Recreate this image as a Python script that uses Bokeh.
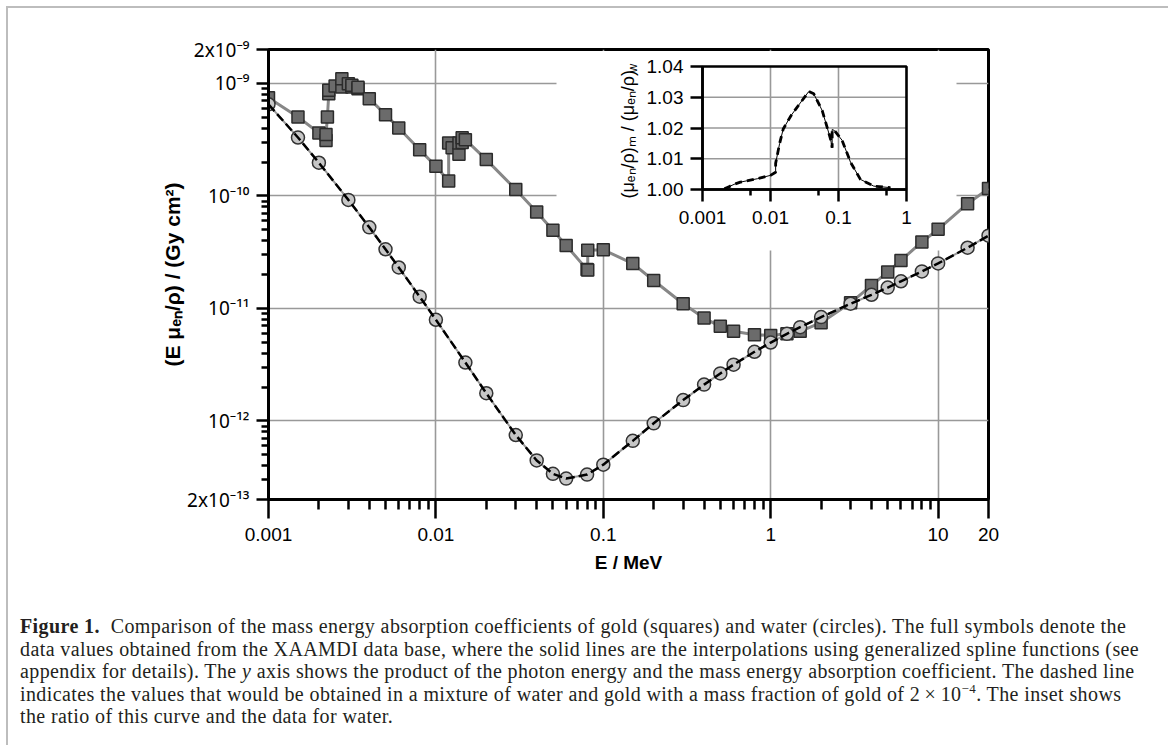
import math
from bokeh.plotting import figure
from bokeh.layouts import column
from bokeh.models import (Range1d, LogScale, LinearScale, LogAxis, LinearAxis, FixedTicker,
                          CustomJSTickFormatter, Label, Div)
from bokeh.embed import file_html
from bokeh.resources import INLINE

# ---------------- data ----------------
water_E = [0.001, 0.0015, 0.002, 0.003, 0.004, 0.005, 0.006, 0.008, 0.01, 0.015, 0.02,
           0.03, 0.04, 0.05, 0.06, 0.08, 0.1, 0.15, 0.2, 0.3, 0.4, 0.5, 0.6, 0.8, 1.0,
           1.25, 1.5, 2.0, 3.0, 4.0, 5.0, 6.0, 8.0, 10.0, 15.0, 20.0]
water_V = [6.51e-10, 3.30e-10, 1.97e-10, 9.21e-11, 5.25e-11, 3.35e-11, 2.31e-11, 1.27e-11,
           7.92e-12, 3.30e-12, 1.76e-12, 7.48e-13, 4.45e-13, 3.38e-13, 3.07e-13, 3.33e-13,
           4.08e-13, 6.64e-13, 9.51e-13, 1.53e-12, 2.10e-12, 2.64e-12, 3.16e-12, 4.11e-12,
           4.97e-12, 5.94e-12, 6.81e-12, 8.36e-12, 1.10e-11, 1.32e-11, 1.53e-11, 1.74e-11,
           2.13e-11, 2.51e-11, 3.46e-11, 4.43e-11]

gold_E = [0.001, 0.0015, 0.002, 0.002206, 0.002206, 0.002249, 0.002291, 0.002291, 0.0025,
          0.002743, 0.002743, 0.003, 0.003148, 0.003148, 0.003425, 0.003425, 0.004, 0.005,
          0.006, 0.008, 0.01, 0.011919, 0.011919, 0.0125, 0.013734, 0.013734, 0.014353,
          0.014353, 0.015, 0.02, 0.03, 0.04, 0.05, 0.06, 0.08, 0.080725, 0.080725, 0.1,
          0.15, 0.2, 0.3, 0.4, 0.5, 0.6, 0.8, 1.0, 1.25, 1.5, 2.0, 3.0, 4.0, 5.0, 6.0, 8.0,
          10.0, 15.0, 20.0]
gold_V = [7.46e-10, 5.02e-10, 3.63e-10, 3.11e-10, 3.52e-10, 5.02e-10, 8.10e-10, 8.67e-10,
          9.47e-10, 9.27e-10, 1.10e-9, 9.94e-10, 9.27e-10, 9.60e-10, 8.97e-10, 9.25e-10,
          7.31e-10, 5.27e-10, 4.01e-10, 2.57e-10, 1.83e-10, 1.355e-10, 2.95e-10, 2.68e-10,
          2.34e-10, 2.95e-10, 2.98e-10, 3.29e-10, 3.16e-10, 2.10e-10, 1.14e-10, 7.18e-11,
          4.94e-11, 3.63e-11, 2.21e-11, 2.19e-11, 3.28e-11, 3.32e-11, 2.50e-11, 1.77e-11,
          1.10e-11, 8.2e-12, 6.92e-12, 6.25e-12, 5.83e-12, 5.75e-12, 5.96e-12, 6.25e-12,
          7.46e-12, 1.12e-11, 1.60e-11, 2.10e-11, 2.67e-11, 3.89e-11, 5.04e-11, 8.52e-11,
          1.16e-10]

# inset: ratio of mixture to water
ratio_E = [0.0021, 0.0025, 0.003, 0.0036, 0.0064, 0.01, 0.0119, 0.0119, 0.0136, 0.0154,
           0.02, 0.0247, 0.0366, 0.0433, 0.0575, 0.0762, 0.0807, 0.0807, 0.087, 0.113,
           0.15, 0.21, 0.33, 0.58]
ratio_V = [1.0002, 1.0010, 1.0018, 1.0024, 1.0035, 1.0046, 1.0056, 1.0085, 1.0149, 1.0197,
           1.0240, 1.0268, 1.0319, 1.0311, 1.0257, 1.0165, 1.0136, 1.0195, 1.0192, 1.0160,
           1.0089, 1.0033, 1.0011, 1.0006]

x_ticks = [0.001, 0.01, 0.1, 1, 10, 20]
x_tick_labels = ["0.001", "0.01", "0.1", "1", "10", "20"]
y_ticks = [2e-13, 1e-12, 1e-11, 1e-10, 1e-9, 2e-9]
y_tick_labels = ["2x10\u207b\u00b9\u00b3", "10\u207b\u00b9\u00b2", "10\u207b\u00b9\u00b9",
                 "10\u207b\u00b9\u2070", "10\u207b\u2079", "2x10\u207b\u2079"]
x_grid = [0.01, 0.1, 1, 10]
y_grid = [1e-12, 1e-11, 1e-10, 1e-9]

inset_x_ticks = [0.001, 0.01, 0.1, 1]
inset_x_labels = ["0.001", "0.01", "0.1", "1"]
inset_x_minor = [0.005, 0.05, 0.5]
inset_y_ticks = [1.00, 1.01, 1.02, 1.03, 1.04]

caption_head = "Figure 1."
caption_lines = [
    "Comparison of the mass energy absorption coefficients of gold (squares) and water (circles). The full symbols denote the",
    "data values obtained from the XAAMDI data base, where the solid lines are the interpolations using generalized spline functions (see",
    "appendix for details). The <i>y</i> axis shows the product of the photon energy and the mass energy absorption coefficient. The dashed line",
    "indicates the values that would be obtained in a mixture of water and gold with a mass fraction of gold of 2&thinsp;\u00d7&thinsp;10<sup style=\"font-size:13px;line-height:0\">\u22124</sup>. The inset shows",
    "the ratio of this curve and the data for water.",
]

# ---------------- layout constants (canvas px; layout sits at page (8, 8)) ----------------
W, H = 1152, 596
CAP_H = 737 - H
FL, FR, FT, FB = 260, 980, 41, 491
IX0, IX1 = 694, 898      # inset x axis: 0.001 .. 1
IY0, IY1 = 181, 58       # inset y axis: 1.00 .. 1.04

def minor_log(lo, hi, e0, e1):
    out = []
    for e in range(e0, e1):
        for m in range(2, 10):
            v = m * 10.0 ** e
            if lo * 1.001 < v < hi * 0.999:
                out.append(v)
    return out

p = figure(width=W, height=H, x_axis_type="log", y_axis_type="log",
           x_range=Range1d(0.001, 20), y_range=Range1d(2e-13, 2e-9),
           min_border_left=FL, min_border_right=W - FR, min_border_top=FT,
           min_border_bottom=H - FB, output_backend="svg", toolbar_location=None,
           background_fill_color="white", border_fill_color="white")
p.outline_line_color = "black"
p.outline_line_width = 3

dec = (IX1 - IX0) / 3.0
lo = -3 - (IX0 - FL) / dec
hi = 0 + (FR - IX1) / dec
upp = 0.04 / (IY0 - IY1)
p.extra_x_ranges = {"ix": Range1d(10 ** lo, 10 ** hi), "px": Range1d(FL, FR)}
p.extra_x_scales = {"ix": LogScale(), "px": LinearScale()}
p.extra_y_ranges = {"iy": Range1d(1.0 - (FB - IY0) * upp, 1.04 + (IY1 - FT) * upp),
                    "py": Range1d(FB, FT)}
p.extra_y_scales = {"iy": LinearScale(), "py": LinearScale()}

fmt_code = """
const i = vals.findIndex(v => Math.abs(Math.log10(v) - Math.log10(tick)) < 1e-6);
return i >= 0 ? labs[i] : "";
"""
FONT = "Liberation Sans"

# main x axis
xa = p.xaxis[0]
xa.ticker = FixedTicker(ticks=x_ticks, minor_ticks=minor_log(0.001, 20, -3, 2))
xa.formatter = CustomJSTickFormatter(args=dict(vals=x_ticks, labs=x_tick_labels), code=fmt_code)
xa.major_tick_out, xa.major_tick_in = 19, 0
xa.minor_tick_out, xa.minor_tick_in = 10, 0
xa.major_tick_line_width = 2.5
xa.minor_tick_line_width = 2.5
xa.axis_line_width = 3
xa.major_label_text_font = FONT
xa.major_label_text_font_size = "19px"
xa.major_label_text_color = "black"
xa.major_label_standoff = 9
xa.axis_label = "E / MeV"
xa.axis_label_text_font = FONT
xa.axis_label_text_font_style = "bold"
xa.axis_label_text_font_size = "19px"
xa.axis_label_text_color = "black"
xa.axis_label_standoff = 8

# main y axis
ya = p.yaxis[0]
ya.ticker = FixedTicker(ticks=y_ticks, minor_ticks=minor_log(2e-13, 2e-9, -13, -8))
ya.formatter = CustomJSTickFormatter(args=dict(vals=y_ticks, labs=y_tick_labels), code=fmt_code)
ya.major_tick_out, ya.major_tick_in = 12, 0
ya.minor_tick_out, ya.minor_tick_in = 7, 0
ya.major_tick_line_width = 2.5
ya.minor_tick_line_width = 2.5
ya.axis_line_width = 3
ya.major_label_text_font = "Noto Sans"
ya.major_label_text_font_size = "19px"
ya.major_label_text_color = "black"
ya.major_label_standoff = 7
ya.axis_label = "(E \u03bc\u2091\u2099/\u03c1) / (Gy cm\u00b2)"
ya.axis_label_text_font = FONT
ya.axis_label_text_font_style = "bold"
ya.axis_label_text_font_size = "21px"
ya.axis_label_text_color = "black"
ya.axis_label_standoff = 0

p.xgrid.ticker = FixedTicker(ticks=x_grid)
p.ygrid.ticker = FixedTicker(ticks=y_grid)
for g in (p.xgrid[0], p.ygrid[0]):
    g.grid_line_color = "#999999"
    g.grid_line_width = 1.6

# white box behind the inset (hides main grid)
p.quad(left=[548], right=[948], top=[42.5], bottom=[242], x_range_name="px", y_range_name="py",
       fill_color="white", line_color=None)

# inset grid
vx = inset_x_ticks[1:-1]
p.segment(x0=vx, x1=vx, y0=[inset_y_ticks[0]] * len(vx), y1=[inset_y_ticks[-1]] * len(vx),
          x_range_name="ix", y_range_name="iy", line_color="#999999", line_width=1.6)
hy = inset_y_ticks[1:-1]
p.segment(x0=[inset_x_ticks[0]] * len(hy), x1=[inset_x_ticks[-1]] * len(hy), y0=hy, y1=hy,
          x_range_name="ix", y_range_name="iy", line_color="#999999", line_width=1.6)

# inset curves
p.line(ratio_E, ratio_V, x_range_name="ix", y_range_name="iy", line_color="black", line_width=1)
p.line(ratio_E, ratio_V, x_range_name="ix", y_range_name="iy", line_color="black",
       line_width=2.8, line_dash="7 5")
p.quad(left=[inset_x_ticks[0]], right=[inset_x_ticks[-1]], bottom=[inset_y_ticks[0]],
       top=[inset_y_ticks[-1]], x_range_name="ix", y_range_name="iy",
       fill_color=None, line_color="black", line_width=2.6)

# inset x axis (ticks from the axis; its labels are drawn inside the plot area below)
iax = LogAxis(x_range_name="ix", y_range_name="iy", fixed_location=inset_y_ticks[0],
              bounds=(inset_x_ticks[0], inset_x_ticks[-1]),
              ticker=FixedTicker(ticks=inset_x_ticks, minor_ticks=inset_x_minor),
              formatter=CustomJSTickFormatter(code="return '';"))
iax.major_tick_out, iax.major_tick_in = 12, 0
iax.minor_tick_out, iax.minor_tick_in = 6, 0
iax.major_tick_line_width = 2.5
iax.minor_tick_line_width = 2.5
iax.axis_line_width = 2.6
iax.major_label_text_font_size = "1px"
iax.major_label_standoff = 0
p.add_layout(iax, "below")
for t, s in zip(inset_x_ticks, inset_x_labels):
    p.add_layout(Label(x=t, y=209, x_range_name="ix", y_range_name="py", text=s,
                       text_align="center", text_baseline="middle", text_font=FONT,
                       text_font_size="19px", text_color="black"))

iay = LinearAxis(x_range_name="ix", y_range_name="iy", fixed_location=inset_x_ticks[0],
                 bounds=(inset_y_ticks[0], inset_y_ticks[-1]),
                 ticker=FixedTicker(ticks=inset_y_ticks),
                 formatter=CustomJSTickFormatter(code="return tick.toFixed(2);"))
iay.major_tick_out, iay.major_tick_in = 12, 0
iay.minor_tick_line_color = None
iay.major_tick_line_width = 2.5
iay.axis_line_width = 2.6
iay.major_label_text_font = FONT
iay.major_label_text_font_size = "19px"
iay.major_label_text_color = "black"
iay.major_label_standoff = 7
p.add_layout(iay, "left")

# inset y title
p.add_layout(Label(x=619, y=190, x_range_name="px", y_range_name="py",
                   text="(\u03bc\u2091\u2099/\u03c1)\u2098 / (\u03bc\u2091\u2099/\u03c1)",
                   angle=math.pi / 2, text_align="left", text_baseline="middle",
                   text_font=FONT, text_font_size="18px", text_color="black"))
p.add_layout(Label(x=624, y=64, x_range_name="px", y_range_name="py", text="w",
                   angle=math.pi / 2, text_align="left", text_baseline="middle",
                   text_font=FONT, text_font_size="12px", text_color="black"))

# main data
p.line(gold_E, gold_V, line_color="#878787", line_width=3)
p.scatter(gold_E, gold_V, marker="square", size=12, fill_color="#6b6b6b",
          line_color="#2b2b2b", line_width=1.5)
p.line(water_E, water_V, line_color="#9a9a9a", line_width=2)
p.scatter(water_E, water_V, marker="circle", size=13, fill_color="#c6c6c6",
          line_color="#333333", line_width=1.5)
p.line(water_E, water_V, line_color="black", line_width=2.5, line_dash="9 4")

# caption
html = ('<div style="font-family:\'Liberation Serif\',serif;font-size:20px;line-height:22.5px;'
        'letter-spacing:0.4px;color:#231f20;white-space:nowrap;padding:6px 0 0 7px;margin:0;">'
        f'<b>{caption_head}</b>&nbsp;&nbsp;' + '<br>'.join(caption_lines) + '</div>')
cap = Div(text=html, width=W, height=CAP_H)

border = "#bdbdbd"
layout = column(p, cap, spacing=0,
                styles={"margin-left": "8px", "margin-top": "8px",
                        "box-shadow": f"0 -2px 0 0 {border}, -2px 0 0 0 {border}, 2px 0 0 0 {border}, "
                                      f"-2px -2px 0 0 {border}, 2px -2px 0 0 {border}"})

open("out.html", "w").write(file_html(layout, INLINE))
